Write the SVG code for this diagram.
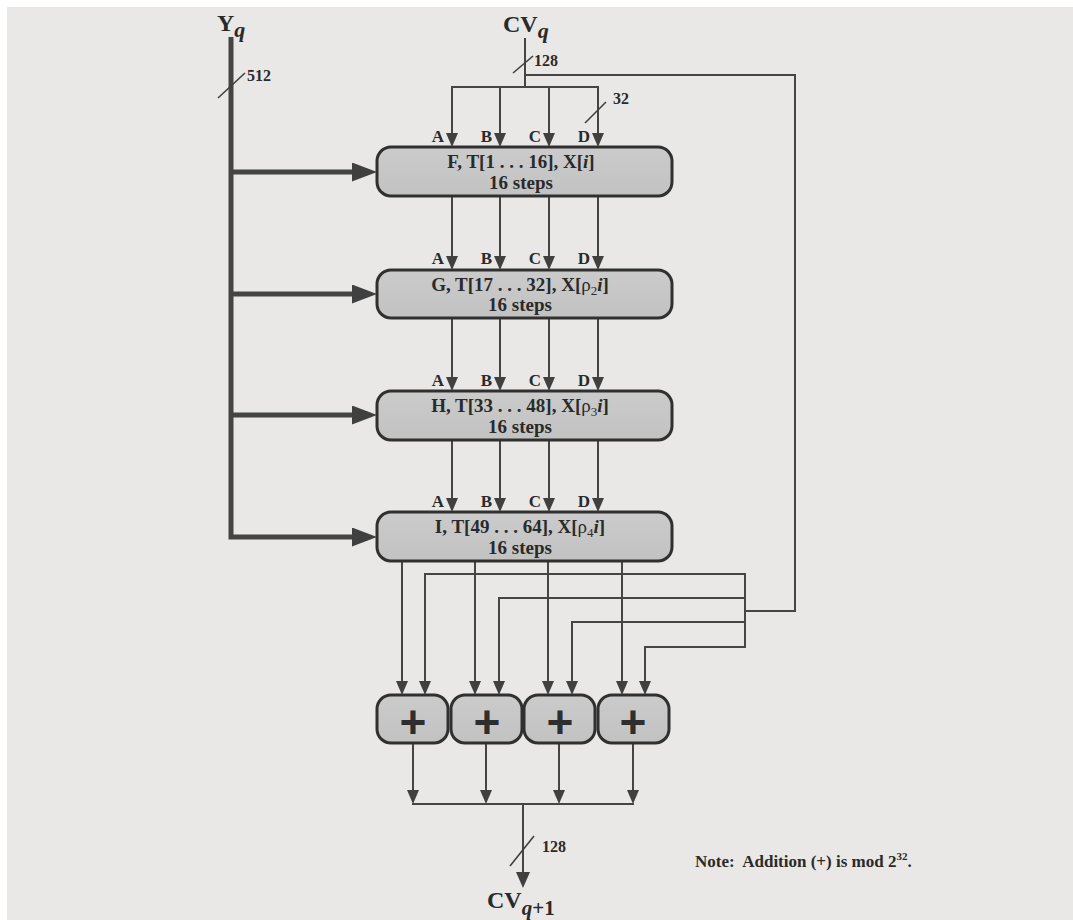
<svg xmlns="http://www.w3.org/2000/svg" width="1073" height="920" viewBox="0 0 1073 920">
  <defs>
    <marker id="ah" markerUnits="userSpaceOnUse" markerWidth="14" markerHeight="12" refX="0" refY="6" orient="auto" viewBox="0 0 14 12">
      <path d="M0,0 L14,6 L0,12 z" fill="#404040"/>
    </marker>
    <marker id="ahL" markerUnits="userSpaceOnUse" markerWidth="16" markerHeight="14" refX="0" refY="7" orient="auto" viewBox="0 0 16 14">
      <path d="M0,0 L16,7 L0,14 z" fill="#404040"/>
    </marker>
    <marker id="ahB" markerUnits="userSpaceOnUse" markerWidth="25" markerHeight="19" refX="0" refY="9.5" orient="auto" viewBox="0 0 25 19">
      <path d="M0,0 L25,9.5 L0,19 z" fill="#404040"/>
    </marker>
    <linearGradient id="boxfill" x1="0" y1="0" x2="0" y2="1">
      <stop offset="0" stop-color="#cbcbcb"/>
      <stop offset="1" stop-color="#c2c2c2"/>
    </linearGradient>
  </defs>
  <style>
    .box { fill: url(#boxfill); stroke: #303030; stroke-width: 3; }
    .ln { fill: none; stroke: #454545; stroke-width: 2; }
    .thick { fill: none; stroke: #444444; stroke-width: 5; stroke-linejoin: miter; }
    .slash { fill: none; stroke: #404040; stroke-width: 1.6; }
    .t { font-family: "Liberation Serif", "Times New Roman", serif; font-weight: bold; fill: #2a2a2a; }
    .bt { font-size: 19px; text-anchor: middle; }
    .lab { font-size: 17px; text-anchor: end; }
    .num { font-size: 16px; }
    .big { font-size: 24px; }
    .plus { font-family: "Liberation Sans", Arial, sans-serif; font-weight: bold; font-size: 46px; text-anchor: middle; fill: #2e2e2e; }
    .it { font-style: italic; }
    .rho { font-weight: normal; }
  </style>

  <rect x="0" y="0" width="1073" height="920" fill="#ffffff"/>
  <rect x="7" y="7" width="1066" height="913" fill="#e9e8e6"/>

  <g id="connectors">
    <polyline class="thick" points="231,37 231,537 352,537" marker-end="url(#ahB)"/>
    <line class="thick" x1="231" y1="172" x2="352" y2="172" marker-end="url(#ahB)"/>
    <line class="thick" x1="231" y1="294" x2="352" y2="294" marker-end="url(#ahB)"/>
    <line class="thick" x1="231" y1="415" x2="352" y2="415" marker-end="url(#ahB)"/>
    <line class="slash" x1="218" y1="98" x2="245" y2="73"/>

    <line class="ln" x1="525" y1="38" x2="525" y2="87"/>
    <line class="ln" x1="451" y1="87" x2="599" y2="87"/>
    <polyline class="ln" points="525,75 795,75 795,611 745,611"/>
    <line class="slash" x1="513" y1="73" x2="533" y2="56"/>

    <line class="ln" x1="452" y1="87" x2="452" y2="133" marker-end="url(#ah)"/>
    <line class="ln" x1="500" y1="87" x2="500" y2="133" marker-end="url(#ah)"/>
    <line class="ln" x1="549" y1="87" x2="549" y2="133" marker-end="url(#ah)"/>
    <line class="ln" x1="598" y1="87" x2="598" y2="133" marker-end="url(#ah)"/>
    <line class="slash" x1="585" y1="123" x2="606" y2="102"/>

    <line class="ln" x1="452" y1="197" x2="452" y2="256" marker-end="url(#ah)"/>
    <line class="ln" x1="500" y1="197" x2="500" y2="256" marker-end="url(#ah)"/>
    <line class="ln" x1="549" y1="197" x2="549" y2="256" marker-end="url(#ah)"/>
    <line class="ln" x1="598" y1="197" x2="598" y2="256" marker-end="url(#ah)"/>

    <line class="ln" x1="452" y1="319" x2="452" y2="377" marker-end="url(#ah)"/>
    <line class="ln" x1="500" y1="319" x2="500" y2="377" marker-end="url(#ah)"/>
    <line class="ln" x1="549" y1="319" x2="549" y2="377" marker-end="url(#ah)"/>
    <line class="ln" x1="598" y1="319" x2="598" y2="377" marker-end="url(#ah)"/>

    <line class="ln" x1="452" y1="441" x2="452" y2="498" marker-end="url(#ah)"/>
    <line class="ln" x1="500" y1="441" x2="500" y2="498" marker-end="url(#ah)"/>
    <line class="ln" x1="549" y1="441" x2="549" y2="498" marker-end="url(#ah)"/>
    <line class="ln" x1="598" y1="441" x2="598" y2="498" marker-end="url(#ah)"/>

    <line class="ln" x1="402" y1="562" x2="402" y2="681" marker-end="url(#ah)"/>
    <line class="ln" x1="475" y1="562" x2="475" y2="681" marker-end="url(#ah)"/>
    <line class="ln" x1="548" y1="562" x2="548" y2="681" marker-end="url(#ah)"/>
    <line class="ln" x1="622" y1="562" x2="622" y2="681" marker-end="url(#ah)"/>

    <line class="ln" x1="745" y1="573" x2="745" y2="648"/>
    <polyline class="ln" points="745,574 425,574 425,681" marker-end="url(#ah)"/>
    <polyline class="ln" points="745,598 499,598 499,681" marker-end="url(#ah)"/>
    <polyline class="ln" points="745,622 572,622 572,681" marker-end="url(#ah)"/>
    <polyline class="ln" points="745,647 645,647 645,681" marker-end="url(#ah)"/>

    <line class="ln" x1="413" y1="744" x2="413" y2="790" marker-end="url(#ah)"/>
    <line class="ln" x1="486" y1="744" x2="486" y2="790" marker-end="url(#ah)"/>
    <line class="ln" x1="559" y1="744" x2="559" y2="790" marker-end="url(#ah)"/>
    <line class="ln" x1="633" y1="744" x2="633" y2="790" marker-end="url(#ah)"/>
    <line class="ln" x1="412" y1="804" x2="634" y2="804"/>
    <line class="ln" x1="523" y1="804" x2="523" y2="872" marker-end="url(#ahL)"/>
    <line class="slash" x1="510" y1="866" x2="534" y2="836"/>
  </g>

  <g id="labels">
    <text class="t big" x="217" y="31">Y<tspan class="it" font-size="22" dy="6">q</tspan></text>
    <text class="t num" x="247" y="81">512</text>
    <text class="t big" x="503" y="32">CV<tspan class="it" font-size="22" dy="6">q</tspan></text>
    <text class="t num" x="534" y="66">128</text>
    <text class="t num" x="613" y="104">32</text>
    <text class="t num" x="542" y="852">128</text>
    <text class="t big" x="487" y="908">CV<tspan class="it" font-size="21" dy="7">q</tspan><tspan font-size="21">+1</tspan></text>
    <text class="t" font-size="17" x="695" y="867">Note:&#160; Addition (+) is mod 2<tspan font-size="11" dy="-7">32</tspan><tspan dy="7">.</tspan></text>
  </g>

  <g id="round-F">
    <rect class="box" x="377" y="147" width="295" height="49" rx="14"/>
    <text class="t lab" x="444" y="142">A</text>
    <text class="t lab" x="492" y="142">B</text>
    <text class="t lab" x="541" y="142">C</text>
    <text class="t lab" x="590" y="142">D</text>
    <text class="t bt" x="521" y="168">F, T[1 . . . 16], X[<tspan class="it">i</tspan>]</text>
    <text class="t bt" x="521" y="189">16 steps</text>
  </g>

  <g id="round-G">
    <rect class="box" x="377" y="270" width="295" height="48" rx="14"/>
    <text class="t lab" x="444" y="264">A</text>
    <text class="t lab" x="492" y="264">B</text>
    <text class="t lab" x="541" y="264">C</text>
    <text class="t lab" x="590" y="264">D</text>
    <text class="t bt" x="520" y="291">G, T[17 . . . 32], X[<tspan class="rho">ρ</tspan><tspan class="rho" font-size="13" dy="4">2</tspan><tspan class="it" dy="-4">i</tspan>]</text>
    <text class="t bt" x="520" y="311">16 steps</text>
  </g>

  <g id="round-H">
    <rect class="box" x="377" y="391" width="295" height="49" rx="14"/>
    <text class="t lab" x="444" y="386">A</text>
    <text class="t lab" x="492" y="386">B</text>
    <text class="t lab" x="541" y="386">C</text>
    <text class="t lab" x="590" y="386">D</text>
    <text class="t bt" x="520" y="412">H, T[33 . . . 48], X[<tspan class="rho">ρ</tspan><tspan class="rho" font-size="13" dy="4">3</tspan><tspan class="it" dy="-4">i</tspan>]</text>
    <text class="t bt" x="520" y="433">16 steps</text>
  </g>

  <g id="round-I">
    <rect class="box" x="377" y="512" width="295" height="49" rx="14"/>
    <text class="t lab" x="444" y="507">A</text>
    <text class="t lab" x="492" y="507">B</text>
    <text class="t lab" x="541" y="507">C</text>
    <text class="t lab" x="590" y="507">D</text>
    <text class="t bt" x="520" y="533">I, T[49 . . . 64], X[<tspan class="rho">ρ</tspan><tspan class="rho" font-size="13" dy="4">4</tspan><tspan class="it" dy="-4">i</tspan>]</text>
    <text class="t bt" x="520" y="554">16 steps</text>
  </g>

  <g id="adder-1">
    <rect class="box" x="377" y="695" width="71" height="48" rx="14"/>
    <text class="plus" x="413" y="738">+</text>
  </g>
  <g id="adder-2">
    <rect class="box" x="451" y="695" width="71" height="48" rx="14"/>
    <text class="plus" x="487" y="738">+</text>
  </g>
  <g id="adder-3">
    <rect class="box" x="524" y="695" width="71" height="48" rx="14"/>
    <text class="plus" x="560" y="738">+</text>
  </g>
  <g id="adder-4">
    <rect class="box" x="598" y="695" width="71" height="48" rx="14"/>
    <text class="plus" x="633" y="738">+</text>
  </g>
</svg>
